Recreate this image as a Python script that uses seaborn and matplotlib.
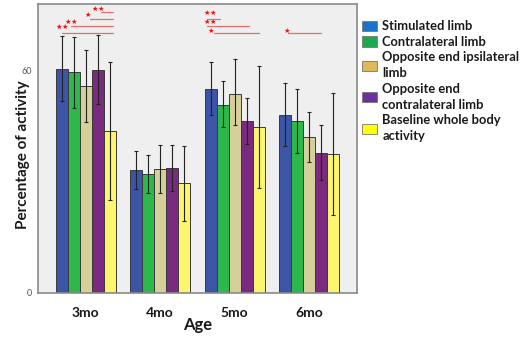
import pandas as pd
import matplotlib.pyplot as plt
import seaborn as sns
from matplotlib.patches import Patch

# Werte (Mittelwert, untere / obere Fehlergrenze)
ages = ["3mo", "4mo", "5mo", "6mo"]
groups = ["Stimulated limb", "Contralateral limb", "Opposite end ipsilateral limb",
          "Opposite end contralateral limb", "Baseline whole body activity"]
legend_labels = ["Stimulated limb", "Contralateral limb", "Opposite end ipsilateral\nlimb",
                 "Opposite end\ncontralateral limb", "Baseline whole body\nactivity"]

stimulated = [60.3, 33.2, 55.0, 48.0]
contralateral = [59.5, 32.0, 50.7, 46.3]
opp_ipsi = [55.6, 33.4, 53.6, 42.0]
opp_contra = [60.1, 33.5, 46.2, 37.7]
baseline = [43.6, 29.5, 44.7, 37.5]

err_low = {
    "Stimulated limb": [51.6, 27.9, 48.0, 39.5],
    "Contralateral limb": [49.9, 26.8, 44.6, 37.8],
    "Opposite end ipsilateral limb": [46.0, 26.9, 45.1, 35.2],
    "Opposite end contralateral limb": [51.0, 27.4, 40.0, 30.3],
    "Baseline whole body activity": [25.0, 19.4, 28.2, 21.0],
}
err_high = {
    "Stimulated limb": [69.2, 38.3, 62.1, 56.6],
    "Contralateral limb": [69.0, 37.2, 57.0, 55.0],
    "Opposite end ipsilateral limb": [65.3, 39.9, 62.9, 48.6],
    "Opposite end contralateral limb": [69.5, 39.9, 52.5, 45.3],
    "Baseline whole body activity": [62.1, 39.5, 61.1, 53.8],
}

# Signifikanz-Markierungen: Anzahl Sterne, Stern-Position, Linie von/bis
sig_n = [2, 2, 1, 2, 2, 2, 1, 1]
star_x = [-0.36, -0.236, 0.031, 0.12, 1.631, 1.631, 1.676, 2.697]
star_y = [71.6, 73.1, 74.8, 76.4, 75.3, 72.9, 70.6, 70.6]
line_x0 = [-0.324, -0.191, 0.053, 0.209, 1.627, 1.627, 1.72, 2.72]
line_x1 = [0.373, 0.373, 0.373, 0.373, 1.809, 2.187, 2.327, 3.164]
line_y = [70.1, 71.9, 73.9, 75.7, 73.9, 71.9, 70.1, 70.0]

bar_colors = ["#3c55a6", "#2db84b", "#d5cf99", "#7a2a7f", "#fbf66e"]
legend_colors = ["#1b74c8", "#1ba950", "#dfb85c", "#6b30a0", "#ffff00"]

df = pd.DataFrame({
    "age": ages * 5,
    "group": [g for g in groups for _ in ages],
    "value": stimulated + contralateral + opp_ipsi + opp_contra + baseline,
})

sns.set_theme(style="white")
plt.rcParams['font.family'] = ['Lato', 'DejaVu Sans']

fig = plt.figure(figsize=(5.28, 3.37), dpi=100)
ax = fig.add_axes([0.072, 0.131, 0.604, 0.857])
ax.set_facecolor("#efefef")

sns.barplot(data=df, x="age", y="value", hue="group", order=ages, hue_order=groups,
            palette=bar_colors, errorbar=None, edgecolor="#3a3a3a", linewidth=0.7,
            width=0.8, saturation=1, legend=False, ax=ax)

# Fehlerbalken
for g, cont in zip(groups, ax.containers):
    for i, bar in enumerate(cont):
        xc = bar.get_x() + bar.get_width() / 2
        h = bar.get_height()
        ax.errorbar(xc, h, yerr=[[h - err_low[g][i]], [err_high[g][i] - h]],
                    fmt="none", ecolor="#222222", elinewidth=0.8, capsize=1.5, capthick=0.8)

# Sterne + Linien
for n, sx, sy, x0, x1, ly in zip(sig_n, star_x, star_y, line_x0, line_x1, line_y):
    ax.plot([x0, x1], [ly, ly], color="#e05050", lw=0.9, alpha=0.8)
    for k in range(n):
        ax.text(sx + k * 0.08, sy, "★", color="#ee1111", fontsize=5.2, ha="center", va="center",
                family=['DejaVu Sans'])

ax.set_xlim(-0.64, 3.64)
ax.set_ylim(0, 77.8)
ax.set_yticks([0, 20, 40, 60])
ax.set_yticklabels(["0", "", "", "60"])
ax.tick_params(axis="y", labelsize=6.5, colors="#555555", length=4, width=0.8, pad=0.5)
ax.tick_params(axis="x", labelsize=10, length=3, width=0.8, colors="#555555", pad=7)
for lab in ax.get_xticklabels():
    lab.set_fontweight("bold")
    lab.set_color("#1a1a1a")
for lab in ax.get_yticklabels():
    lab.set_color("#555555")

for sp in ax.spines.values():
    sp.set_color("#8a8a8a")
    sp.set_linewidth(1.2)

ax.set_xlabel("Age", fontsize=12, fontweight="bold", color="#1a1a1a", labelpad=-1)
ax.set_ylabel("Percentage of activity", fontsize=11, fontweight="bold", color="#1a1a1a")
ax.yaxis.set_label_coords(-0.026, 0.48)

handles = [Patch(facecolor=c, edgecolor="#777777", linewidth=0.6) for c in legend_colors]
leg = fig.legend(handles, legend_labels, loc="upper left", bbox_to_anchor=(0.686, 0.94),
                 frameon=False, fontsize=9.3, handlelength=1.15, handleheight=0.85,
                 handletextpad=0.4, labelspacing=0.28, borderaxespad=0, borderpad=0)
for t in leg.get_texts():
    t.set_fontweight("bold")
    t.set_color("#1a1a1a")
    t.set_linespacing(1.38)

plt.savefig("out.png", dpi=100)
plt.close()
